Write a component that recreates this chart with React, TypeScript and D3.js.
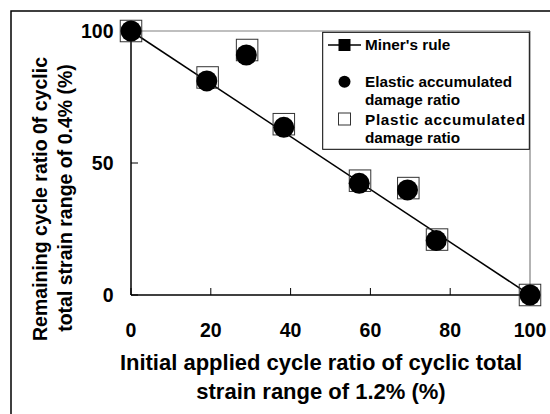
import React from 'react';
import * as d3 from 'd3';

const xTicks = [0, 20, 40, 60, 80, 100];
const yTicks = [0, 50, 100];
const minerX = [0, 100];
const minerY = [100, 0];
const elasticX = [0, 19.0, 28.9, 38.3, 57.2, 69.3, 76.5, 100];
const elasticY = [100, 81.1, 90.9, 63.5, 42.3, 39.8, 20.6, 0];
const plasticX = [0, 19.2, 29.1, 38.3, 57.4, 69.5, 76.7, 100];
const plasticY = [100, 82.4, 92.8, 64.7, 43.3, 40.5, 21.0, 0];
const xTitle = ['Initial applied cycle ratio of cyclic total', 'strain range of 1.2% (%)'];
const yTitle = ['Remaining cycle ratio 0f cyclic', 'total strain range of 0.4% (%)'];
const legendLabels = ["Miner's rule", 'Elastic accumulated', 'damage ratio', 'Plastic accumulated', 'damage ratio'];

const FONT = '"Liberation Sans", Arial, Helvetica, sans-serif';

export default function App() {
  const x = d3.scaleLinear().domain([0, 100]).range([131, 530]);
  const y = d3.scaleLinear().domain([0, 100]).range([295, 31]);
  const line = d3.line<number>().x((d, i) => x(minerX[i])).y((d, i) => y(minerY[i]));
  const sq = 21.5;
  const r = 10.5;
  return (
    <div style={{ position: 'absolute', left: 0, top: 0 }}>
      <svg width={550} height={414} style={{ display: 'block', background: '#fff' }} fontFamily={FONT} fontWeight="bold">
        <rect x={11} y={11} width={700} height={700} fill="none" stroke="#000" strokeWidth={1.5} />
        {/* plot frame */}
        <line x1={x(0)} x2={x(100)} y1={y(100)} y2={y(100)} stroke="#808080" strokeWidth={1.2} />
        <line x1={x(100)} x2={x(100)} y1={y(100)} y2={y(0)} stroke="#808080" strokeWidth={1.2} />
        <line x1={x(0)} x2={x(0)} y1={y(100)} y2={y(0)} stroke="#000" strokeWidth={1.5} />
        <line x1={x(0)} x2={x(100)} y1={y(0)} y2={y(0)} stroke="#000" strokeWidth={1.5} />
        {xTicks.map((t) => (
          <g key={'xt' + t}>
            <line x1={x(t)} x2={x(t)} y1={y(0)} y2={y(0) - 7} stroke="#000" strokeWidth={1} />
            <text x={x(t)} y={337} textAnchor="middle" fontSize={19.5}>{t}</text>
          </g>
        ))}
        {yTicks.map((t) => (
          <g key={'yt' + t}>
            <line x1={x(0)} x2={x(0) + 7} y1={y(t)} y2={y(t)} stroke="#000" strokeWidth={1} />
            <text x={113.5} y={y(t) + 7} textAnchor="end" fontSize={19.5}>{t}</text>
          </g>
        ))}
        {/* Miner's rule */}
        <path d={line(minerX) || ''} fill="none" stroke="#000" strokeWidth={1.5} />
        {minerX.map((v, i) => (
          <rect key={'m' + i} x={x(v) - 6} y={y(minerY[i]) - 6} width={12} height={12} fill="#000" />
        ))}
        {/* plastic squares */}
        {plasticX.map((v, i) => (
          <rect key={'p' + i} x={x(v) - sq / 2} y={y(plasticY[i]) - sq / 2} width={sq} height={sq} fill="none" stroke="#333" strokeWidth={1} />
        ))}
        {/* elastic circles */}
        {elasticX.map((v, i) => (
          <circle key={'e' + i} cx={x(v)} cy={y(elasticY[i])} r={r} fill="#000" />
        ))}
        {/* legend */}
        <rect x={322.7} y={32.3} width={206.6} height={117} fill="#fff" stroke="#000" strokeWidth={1} />
        <line x1={328} x2={361} y1={45} y2={45} stroke="#000" strokeWidth={1.5} />
        <rect x={338.5} y={39} width={12} height={12} fill="#000" />
        <circle cx={344.5} cy={81.7} r={6} fill="#000" />
        <rect x={338.5} y={113} width={12} height={12} fill="none" stroke="#333" strokeWidth={1} />
        <text x={365} y={50} fontSize={15.3}>{legendLabels[0]}</text>
        <text x={365} y={87.3} fontSize={15.3}>{legendLabels[1]}</text>
        <text x={365} y={105} fontSize={15.3}>{legendLabels[2]}</text>
        <text x={365} y={125} fontSize={15.3} textLength={160} lengthAdjust="spacing">{legendLabels[3]}</text>
        <text x={365} y={143.3} fontSize={15.3}>{legendLabels[4]}</text>
        {/* axis titles */}
        <text x={321} y={370} textAnchor="middle" fontSize={22}>{xTitle[0]}</text>
        <text x={321} y={399} textAnchor="middle" fontSize={22}>{xTitle[1]}</text>
        <text transform="translate(46.7,199) rotate(-90)" textAnchor="middle" fontSize={19.5}>{yTitle[0]}</text>
        <text transform="translate(72,198) rotate(-90)" textAnchor="middle" fontSize={19.5}>{yTitle[1]}</text>
      </svg>
    </div>
  );
}
